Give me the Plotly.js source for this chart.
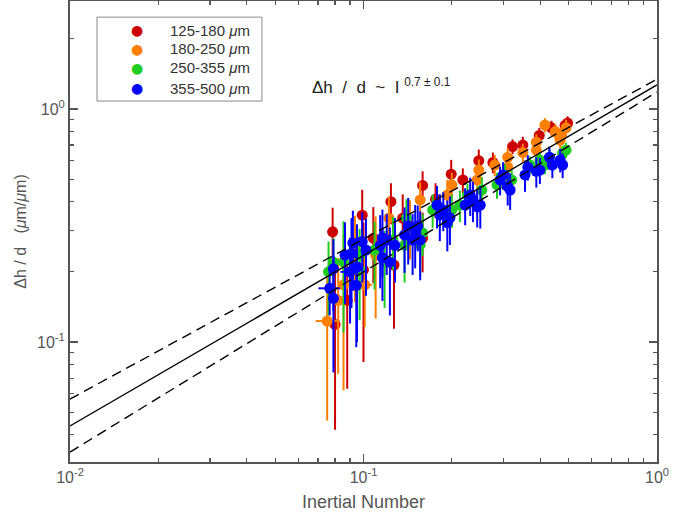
<!DOCTYPE html>
<html>
<head>
<meta charset="utf-8">
<script src="https://cdn.plot.ly/plotly-3.0.1.min.js"></script>
<style>html,body{margin:0;padding:0;background:#fff;}#chart{width:688px;height:517px;}</style>
</head>
<body>
<div id="chart"></div>
<script>
// ---- data ----
var seriesNames = ['125-180', '180-250', '250-355', '355-500'];
var seriesColors = ['#cc0000', '#ff8000', '#1fcc1f', '#0000ff'];

var redX  = [0.0785, 0.080, 0.099, 0.088, 0.100, 0.108, 0.124, 0.127, 0.136, 0.159, 0.159, 0.176, 0.199, 0.218, 0.247, 0.276, 0.322, 0.349, 0.397, 0.437, 0.486, 0.496];
var redY  = [0.297, 0.119, 0.350, 0.151, 0.204, 0.279, 0.400, 0.214, 0.340, 0.470, 0.279, 0.410, 0.525, 0.496, 0.600, 0.590, 0.690, 0.700, 0.770, 0.830, 0.850, 0.870];
var redEY = [0.080, 0.077, 0.100, 0.088, 0.122, 0.100, 0.080, 0.100, 0.090, 0.070, 0.080, 0.070, 0.080, 0.060, 0.070, 0.060, 0.050, 0.060, 0.060, 0.060, 0.050, 0.060];
var redEX = [0.003, 0.003, 0.003, 0.003, 0.003, 0.004, 0.004, 0.004, 0.005, 0.005, 0.005, 0.006, 0.006, 0.007, 0.008, 0.008, 0.009, 0.010, 0.010, 0.011, 0.012, 0.012];

var orangeX  = [0.0752, 0.082, 0.0855, 0.101, 0.0935, 0.110, 0.122, 0.144, 0.156, 0.193, 0.200, 0.244, 0.247, 0.280, 0.310, 0.310, 0.349, 0.388, 0.388, 0.450, 0.470, 0.490, 0.415, 0.468];
var orangeY  = [0.123, 0.151, 0.176, 0.176, 0.248, 0.236, 0.340, 0.316, 0.407, 0.427, 0.472, 0.496, 0.547, 0.575, 0.563, 0.620, 0.650, 0.720, 0.666, 0.800, 0.770, 0.830, 0.853, 0.736];
var orangeEY = [0.077, 0.078, 0.114, 0.060, 0.100, 0.110, 0.080, 0.090, 0.080, 0.070, 0.060, 0.070, 0.060, 0.060, 0.070, 0.060, 0.060, 0.060, 0.050, 0.060, 0.060, 0.070, 0.060, 0.060];
var orangeEX = [0.0065, 0.003, 0.003, 0.006, 0.003, 0.004, 0.004, 0.005, 0.005, 0.006, 0.006, 0.008, 0.008, 0.009, 0.010, 0.010, 0.010, 0.011, 0.011, 0.012, 0.012, 0.013, 0.011, 0.012];

var greenX  = [0.076, 0.079, 0.0855, 0.097, 0.109, 0.126, 0.140, 0.138, 0.159, 0.172, 0.200, 0.253, 0.226, 0.303, 0.320, 0.369, 0.399, 0.477, 0.430, 0.097, 0.118, 0.156, 0.213, 0.285, 0.415, 0.490];
var greenY  = [0.200, 0.220, 0.220, 0.236, 0.248, 0.274, 0.340, 0.260, 0.294, 0.369, 0.369, 0.449, 0.427, 0.521, 0.496, 0.575, 0.604, 0.646, 0.620, 0.204, 0.220, 0.261, 0.387, 0.472, 0.575, 0.666];
var greenEY = [0.070, 0.060, 0.110, 0.070, 0.080, 0.070, 0.070, 0.080, 0.060, 0.060, 0.060, 0.060, 0.050, 0.060, 0.050, 0.050, 0.050, 0.050, 0.050, 0.080, 0.080, 0.070, 0.060, 0.060, 0.050, 0.050];
var greenEX = [0.003, 0.003, 0.003, 0.003, 0.004, 0.004, 0.005, 0.005, 0.005, 0.006, 0.006, 0.008, 0.007, 0.009, 0.010, 0.010, 0.011, 0.012, 0.012, 0.003, 0.004, 0.005, 0.007, 0.009, 0.011, 0.012];

var blueX  = [0.079, 0.0767, 0.079, 0.092, 0.099, 0.091, 0.095, 0.090, 0.0945, 0.116, 0.120, 0.114, 0.123, 0.116, 0.142, 0.150, 0.147, 0.153, 0.182, 0.193, 0.187, 0.222, 0.236, 0.244, 0.292, 0.310, 0.363, 0.388, 0.430, 0.468,
              0.0865, 0.102, 0.128, 0.138, 0.156, 0.178, 0.197, 0.231, 0.250, 0.299, 0.316, 0.355, 0.399, 0.440, 0.477];
var blueY  = [0.206, 0.170, 0.154, 0.266, 0.270, 0.240, 0.210, 0.200, 0.175, 0.280, 0.274, 0.260, 0.220, 0.230, 0.315, 0.297, 0.274, 0.315, 0.351, 0.325, 0.369, 0.387, 0.407, 0.380, 0.496, 0.465, 0.563, 0.540, 0.620, 0.604,
              0.236, 0.248, 0.260, 0.288, 0.274, 0.387, 0.341, 0.427, 0.387, 0.521, 0.449, 0.521, 0.547, 0.575, 0.575];
var blueEY = [0.070, 0.040, 0.080, 0.100, 0.090, 0.100, 0.110, 0.080, 0.080, 0.090, 0.080, 0.090, 0.090, 0.080, 0.100, 0.090, 0.080, 0.070, 0.080, 0.080, 0.070, 0.070, 0.080, 0.070, 0.070, 0.080, 0.070, 0.080, 0.070, 0.070,
              0.090, 0.090, 0.080, 0.090, 0.090, 0.080, 0.080, 0.080, 0.080, 0.070, 0.080, 0.080, 0.070, 0.070, 0.070];
var blueEX = [0.003, 0.0065, 0.003, 0.003, 0.003, 0.003, 0.003, 0.0065, 0.003, 0.004, 0.004, 0.004, 0.004, 0.004, 0.005, 0.005, 0.005, 0.005, 0.006, 0.006, 0.006, 0.007, 0.008, 0.008, 0.009, 0.010, 0.010, 0.011, 0.012, 0.012,
              0.003, 0.003, 0.004, 0.005, 0.005, 0.006, 0.006, 0.007, 0.008, 0.009, 0.010, 0.010, 0.011, 0.012, 0.012];

// fit line and its bounds, evaluated at the axis ends
var fitX = [0.01, 1];
var fitY = [0.0436, 1.268];
var fitUpperY = [0.0569, 1.343];
var fitLowerY = [0.0337, 1.183];

var tickVals = [0.01, 0.1, 1];
var tickText = ['10<sup>-2</sup>', '10<sup>-1</sup>', '10<sup>0</sup>'];

var annotationText = '\u0394h\u00a0\u00a0/\u00a0\u00a0d\u00a0\u00a0~\u00a0\u00a0I\u00a0<sup>0.7 \u00b1 0.1</sup>';
var xTitle = 'Inertial Number';
var yTitle = '\u0394h / d   (<i>\u03bc</i>m/<i>\u03bc</i>m)';

// ---- build traces ----
var allX = [redX, orangeX, greenX, blueX];
var allY = [redY, orangeY, greenY, blueY];
var allEY = [redEY, orangeEY, greenEY, blueEY];
var allEX = [redEX, orangeEX, greenEX, blueEX];

var traces = [];
for (var i = 0; i < 4; i++) {
  traces.push({
    type: 'scatter', mode: 'markers',
    x: allX[i], y: allY[i],
    name: seriesNames[i] + ' \u03bcm',
    showlegend: false,
    marker: {color: seriesColors[i], size: 11},
    error_y: {type: 'data', array: allEY[i], color: seriesColors[i], thickness: 2, width: 0},
    error_x: {type: 'data', array: allEX[i], color: seriesColors[i], thickness: 2, width: 0}
  });
}
traces.push({type: 'scatter', mode: 'lines', x: fitX, y: fitY, line: {color: '#000', width: 1.4}, showlegend: false, hoverinfo: 'skip'});
traces.push({type: 'scatter', mode: 'lines', x: fitX, y: fitUpperY, line: {color: '#000', width: 1.4, dash: '10px,6px'}, showlegend: false, hoverinfo: 'skip'});
traces.push({type: 'scatter', mode: 'lines', x: fitX, y: fitLowerY, line: {color: '#000', width: 1.4, dash: '10px,6px'}, showlegend: false, hoverinfo: 'skip'});

var axisCommon = {
  type: 'log', showgrid: false, zeroline: false,
  showline: true, linecolor: '#555', linewidth: 2, mirror: 'ticks',
  ticks: 'inside', ticklen: 8, tickwidth: 1.2, tickcolor: '#555',
  tickmode: 'array', tickvals: tickVals, ticktext: tickText,
  minor: {ticks: 'inside', ticklen: 4, tickwidth: 1.2, tickcolor: '#555', dtick: 'D1'},
  tickfont: {size: 16, color: '#555', family: 'Liberation Sans, Arial, sans-serif'}
};

// legend drawn as a boxed key (paper coordinates)
var legendRows = [0.937, 0.896, 0.855, 0.811];
var annotations = [{
  xref: 'paper', yref: 'paper', x: 0.53, y: 0.815, xanchor: 'center', yanchor: 'middle',
  text: annotationText, showarrow: false, font: {size: 17, color: '#222'}
}];
for (var k = 0; k < 4; k++) {
  annotations.push({xref: 'paper', yref: 'paper', x: 0.114, y: legendRows[k], xanchor: 'center', yanchor: 'middle',
    text: '\u25cf', showarrow: false, font: {size: 14, color: seriesColors[k], family: 'DejaVu Sans'}});
  annotations.push({xref: 'paper', yref: 'paper', x: 0.167, y: legendRows[k], xanchor: 'left', yanchor: 'middle',
    text: seriesNames[k] + ' <i>\u03bc</i>m', showarrow: false, font: {size: 15, color: '#333'}});
}

var layout = {
  width: 688, height: 517,
  margin: {l: 70, r: 31, t: 1, b: 55},
  paper_bgcolor: '#fff', plot_bgcolor: '#fff',
  font: {family: 'Liberation Sans, Arial, sans-serif', color: '#333'},
  showlegend: false,
  xaxis: Object.assign({}, axisCommon, {
    range: [-2, 0],
    title: {text: xTitle, font: {size: 18, color: '#555'}, standoff: 10}
  }),
  yaxis: Object.assign({}, axisCommon, {
    range: [-1.515, 0.4635],
    title: {text: yTitle, font: {size: 16, color: '#555'}, standoff: 6}
  }),
  shapes: [{type: 'rect', xref: 'paper', yref: 'paper', x0: 0.046, x1: 0.327, y0: 0.783, y1: 0.965,
    line: {color: '#888', width: 1}, fillcolor: '#fff', layer: 'above'}],
  annotations: annotations
};

Plotly.newPlot('chart', traces, layout, {displayModeBar: false, staticPlot: true});
</script>
</body>
</html>
